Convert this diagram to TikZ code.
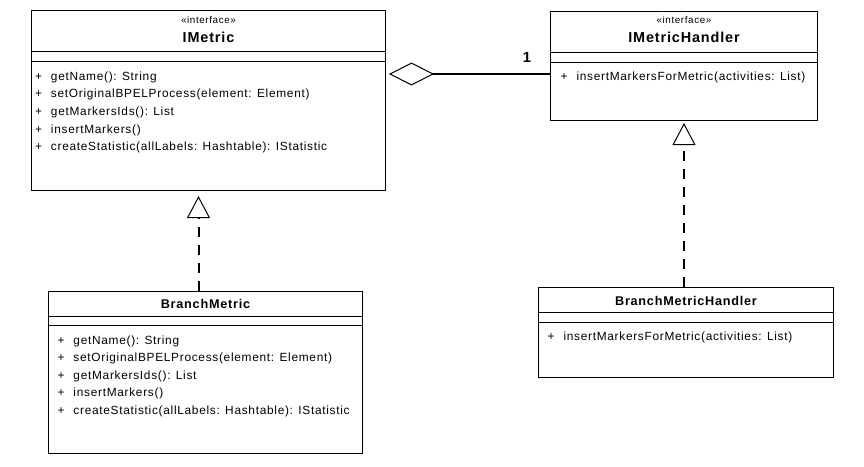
\documentclass[tikz,border=0pt]{standalone}
\usepackage{fontspec}
\setmainfont{Liberation Sans}
\setsansfont{Liberation Sans}
\newfontfamily\umlfont[LetterSpace=6]{Liberation Sans}
\usetikzlibrary{arrows.meta, positioning, calc}
\tikzset{
  every picture/.style={line width=0.75pt},
  classbox/.style={draw, fill=white, rectangle, inner sep=0pt, anchor=north west},
  stereo/.style={font=\umlfont\fontsize{7.4}{8}\selectfont, inner sep=0pt, anchor=base},
  classname/.style={font=\umlfont\bfseries\fontsize{#1}{12}\selectfont, inner sep=0pt, anchor=base},
  classname/.default=9.5,
  member/.style={font=\umlfont\fontsize{8.9}{10}\selectfont, inner sep=0pt, anchor=base west},
  realize/.style={-{Triangle[open, length=16.5pt, width=17.25pt, line width=0.75pt]}, line width=1.5pt,
    dash pattern=on 7.5pt off 6pt},
  aggregation/.style={{Diamond[open, length=33.75pt, width=17.25pt, line width=0.75pt]}-, line width=1.5pt},
  mult/.style={font=\bfseries\fontsize{11}{12}\selectfont, inner sep=0pt},
}
% the two horizontal compartment lines of a class box
\newcommand{\compartments}[3]{%
  \draw ($(#1.north west)+(0,#2)$) -- ($(#1.north east)+(0,#2)$);
  \draw ($(#1.north west)+(0,#3)$) -- ($(#1.north east)+(0,#3)$);}
% public operation: "+" then the signature
\newcommand{\umlop}[1]{\makebox[12pt][l]{+}#1}

\begin{document}
\begin{tikzpicture}[x=0.75pt, y=-0.75pt]
  \useasboundingbox (0,0) rectangle (864,467);
  % interfaces
  \node[classbox, minimum width=265.5pt, minimum height=135pt] (imetric) at (31,10) {};
  \compartments{imetric}{42}{52}
  \node[stereo] (imetricst) at ($(imetric.north)+(0,14)$) {«interface»};
  \node[classname=10.8] (imetricname) at ($(imetric.north)+(0,33)$) {IMetric};
  \foreach \m [count=\i from 0] in {{getName(): String}, {setOriginalBPELProcess(element: Element)},
      {getMarkersIds(): List}, {insertMarkers()}, {createStatistic(allLabels: Hashtable): IStatistic}}
    \node[member] (imetricop\i) at ($(imetric.north west)+(3.5,70+17.75*\i)$) {\umlop{\m}};

  \node[classbox, minimum width=200.25pt, minimum height=81.75pt] (imhandler) at (550,11) {};
  \compartments{imhandler}{42}{52}
  \node[stereo] (imhandlerst) at ($(imhandler.north)+(0,13)$) {«interface»};
  \node[classname=10.8] (imhandlername) at ($(imhandler.north)+(0,32)$) {IMetricHandler};
  \node[member] (imhandlerop) at ($(imhandler.north west)+(10,70)$) {\umlop{insertMarkersForMetric(activities: List)}};

  % implementations
  \node[classbox, minimum width=235.5pt, minimum height=121.5pt] (bmetric) at (48,291) {};
  \compartments{bmetric}{25}{34}
  \node[classname] (bmetricname) at ($(bmetric.north)+(0,17)$) {BranchMetric};
  \foreach \m [count=\i from 0] in {{getName(): String}, {setOriginalBPELProcess(element: Element)},
      {getMarkersIds(): List}, {insertMarkers()}, {createStatistic(allLabels: Hashtable): IStatistic}}
    \node[member] (bmetricop\i) at ($(bmetric.north west)+(9,53+17.5*\i)$) {\umlop{\m}};

  \node[classbox, minimum width=221.25pt, minimum height=67.5pt] (bmhandler) at (538,287) {};
  \compartments{bmhandler}{25}{35}
  \node[classname] (bmhandlername) at ($(bmhandler.north)+(0,18)$) {BranchMetricHandler};
  \node[member] (bmhandlerop) at ($(bmhandler.north west)+(9,53)$) {\umlop{insertMarkersForMetric(activities: List)}};

  % relations
  \coordinate (assocend) at ($(imhandler.north west)+(0,63)$);
  \coordinate (bmtop) at ($(bmetric.north)+(-7,0)$);
  \draw[aggregation, shorten <=2.25pt] (assocend -| imetric.east) -- node[mult, pos=0.86, above=8pt] {1} (assocend);
  \draw[realize, shorten >=3.75pt] (bmtop) -- (bmtop |- imetric.south);
  \draw[realize, shorten >=1.5pt] (bmhandler.north -| imhandler.south) -- (imhandler.south);
\end{tikzpicture}
\end{document}
